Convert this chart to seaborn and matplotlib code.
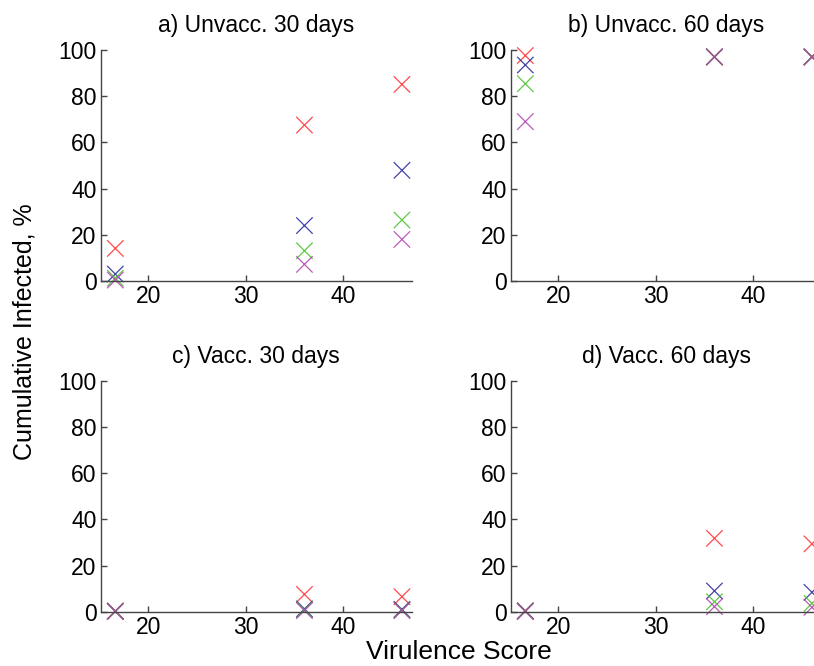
import numpy as np
import pandas as pd
import matplotlib
matplotlib.use("Agg")
import matplotlib.pyplot as plt
import seaborn as sns

# virulence scores of the three strains
virulence = [16.6, 36.0, 46.0]

# cumulative infected (%) for each group, per panel
unvacc_30 = {
    "g1": [14.1, 67.5, 85.1],
    "g2": [3.0, 24.0, 47.9],
    "g3": [1.2, 13.1, 26.4],
    "g4": [0.4, 7.2, 18.0],
}
unvacc_60 = {
    "g1": [97.6, 97.0, 97.0],
    "g2": [93.5, 97.0, 97.0],
    "g3": [85.4, 97.0, 97.0],
    "g4": [69.0, 97.0, 97.0],
}
vacc_30 = {
    "g1": [0.3, 7.5, 6.5],
    "g2": [0.2, 1.2, 1.0],
    "g3": [0.1, 0.8, 0.7],
    "g4": [0.1, 0.5, 0.5],
}
vacc_60 = {
    "g1": [0.4, 31.8, 29.4],
    "g2": [0.3, 9.0, 8.4],
    "g3": [0.2, 4.3, 3.6],
    "g4": [0.1, 2.2, 1.9],
}

titles = ["a) Unvacc. 30 days", "b) Unvacc. 60 days", "c) Vacc. 30 days", "d) Vacc. 60 days"]
panels = [unvacc_30, unvacc_60, vacc_30, vacc_60]
palette = {"g1": "#ff2a2a", "g2": "#22229a", "g3": "#44c022", "g4": "#b040b0"}

rows = []
for title, panel in zip(titles, panels):
    for grp, vals in panel.items():
        for x, y in zip(virulence, vals):
            rows.append({"panel": title, "group": grp, "virulence": x, "infected": y})
df = pd.DataFrame(rows)

sns.set_style("white")
plt.rcParams["font.family"] = ["Liberation Sans", "DejaVu Sans"]
plt.rcParams["text.color"] = "black"

fig = plt.figure(figsize=(8.14, 6.66), dpi=100)
W, H = 814, 666
# axes boxes in pixels: left, top, right, bottom
boxes = [
    (100.7, 50, 411.7, 281),
    (510.7, 50, 821.7, 281),
    (100.7, 381, 411.7, 611.7),
    (510.7, 381, 821.7, 611.7),
]

for title, (l, t, r, b) in zip(titles, boxes):
    ax = fig.add_axes([l / W, (H - b) / H, (r - l) / W, (b - t) / H])
    sub = df[df["panel"] == title]
    sns.scatterplot(data=sub, x="virulence", y="infected", hue="group",
                    palette=palette, marker="x", s=140, linewidth=0.9,
                    alpha=0.85, legend=False, clip_on=False, ax=ax)
    ax.set_xlim(15.1, 47)
    ax.set_ylim(0, 100)
    ax.set_xticks([20, 30, 40])
    ax.set_yticks(range(0, 101, 20))
    ax.tick_params(direction="in", length=4, width=1, color="#444444",
                   labelsize=16.5, labelcolor="black", pad=3,
                   left=True, bottom=True)
    ax.set_xlabel("")
    ax.set_ylabel("")
    ax.set_title(title, fontsize=16.5, pad=13, color="black")
    for side in ["top", "right"]:
        ax.spines[side].set_visible(False)
    for side in ["left", "bottom"]:
        ax.spines[side].set_color("#444444")
        ax.spines[side].set_linewidth(1.0)
    ax.set_facecolor("none")

fig.text(25 / W, 1 - 332 / H, "Cumulative Infected, %", rotation=90,
         ha="center", va="center", fontsize=18)
fig.text(459 / W, 1 - 652 / H, "Virulence Score", ha="center", va="center",
         fontsize=19)

fig.savefig("out.png", dpi=100)
